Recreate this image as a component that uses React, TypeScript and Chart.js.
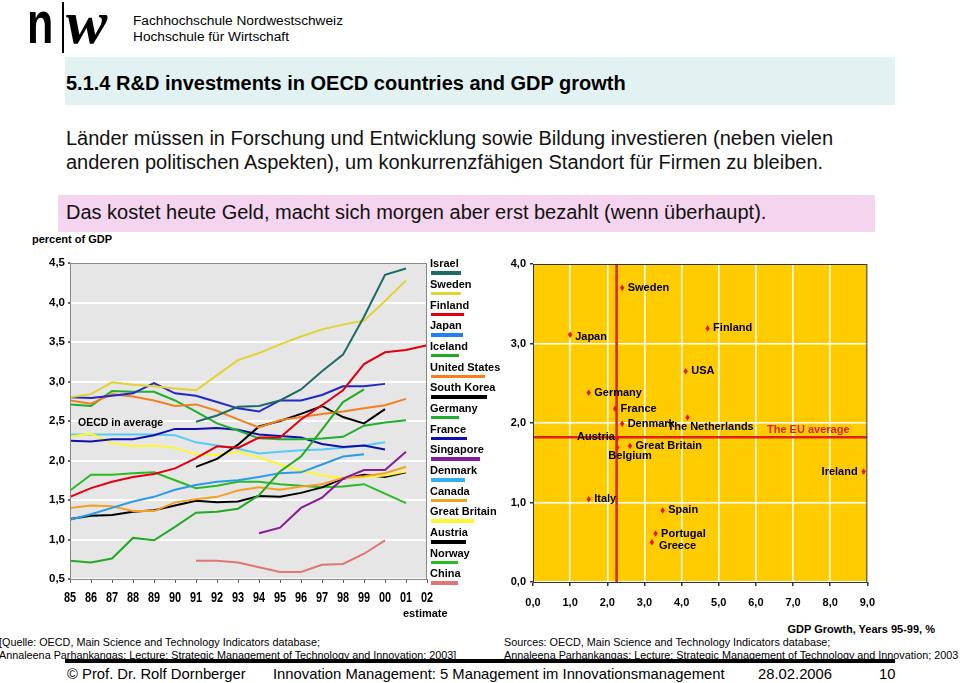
import React, { useEffect, useRef } from 'react';
import Chart from 'chart.js/auto';

// ---------- Left chart data: R&D expenditure, percent of GDP ----------
const YEARS = ['85', '86', '87', '88', '89', '90', '91', '92', '93', '94', '95', '96', '97', '98', '99', '00', '01', '02'];
const N = null;
const ISRAEL = [N, N, N, N, N, N, 2.49, 2.57, 2.68, 2.69, 2.76, 2.9, 3.13, 3.34, 3.82, 4.35, 4.43, N];
const SWEDEN = [2.8, 2.84, 2.99, 2.96, 2.94, 2.91, 2.89, 3.08, 3.27, 3.36, 3.47, 3.57, 3.66, 3.72, 3.77, 4.02, 4.28, N];
const FINLAND = [1.54, 1.65, 1.73, 1.79, 1.83, 1.9, 2.03, 2.18, 2.16, 2.29, 2.29, 2.52, 2.7, 2.89, 3.22, 3.37, 3.4, 3.46];
const JAPAN = [2.8, 2.79, 2.82, 2.85, 2.98, 2.85, 2.82, 2.74, 2.66, 2.62, 2.76, 2.76, 2.83, 2.94, 2.94, 2.97, N, N];
const ICELAND = [0.73, 0.71, 0.76, 1.02, 0.99, 1.16, 1.34, 1.35, 1.39, 1.56, 1.86, 2.05, 2.39, 2.74, 2.9, N, N, N];
const UNITED_STATES = [2.76, 2.72, 2.84, 2.81, 2.76, 2.69, 2.71, 2.63, 2.52, 2.42, 2.51, 2.55, 2.59, 2.62, 2.66, 2.7, 2.78, N];
const SOUTH_KOREA = [N, N, N, N, N, N, 1.92, 2.02, 2.2, 2.43, 2.5, 2.59, 2.69, 2.55, 2.47, 2.65, N, N];
const GERMANY = [2.71, 2.69, 2.88, 2.87, 2.87, 2.76, 2.62, 2.47, 2.38, 2.28, 2.27, 2.27, 2.28, 2.3, 2.44, 2.48, 2.51, N];
const FRANCE = [2.25, 2.24, 2.27, 2.27, 2.32, 2.4, 2.4, 2.41, 2.39, 2.33, 2.31, 2.29, 2.21, 2.17, 2.19, 2.14, N, N];
const SINGAPORE = [N, N, N, N, N, N, N, N, N, 1.08, 1.15, 1.4, 1.53, 1.77, 1.88, 1.88, 2.11, N];
const DENMARK = [1.25, 1.32, 1.4, 1.48, 1.54, 1.63, 1.69, 1.73, 1.75, 1.79, 1.84, 1.85, 1.95, 2.05, 2.08, N, N, N];
const CANADA = [1.4, 1.43, 1.42, 1.36, 1.36, 1.47, 1.51, 1.54, 1.62, 1.66, 1.63, 1.67, 1.7, 1.78, 1.8, 1.84, 1.92, N];
const GREAT_BRITAIN = [2.3, 2.34, 2.22, 2.18, 2.19, 2.16, 2.08, 2.07, 2.11, 2.04, 1.95, 1.87, 1.81, 1.78, 1.79, 1.81, 1.86, N];
const AUSTRIA = [1.26, 1.3, 1.31, 1.35, 1.37, 1.43, 1.49, 1.47, 1.48, 1.55, 1.54, 1.59, 1.66, 1.77, 1.82, 1.79, 1.85, N];
const NORWAY = [1.62, 1.82, 1.82, 1.84, 1.85, 1.75, 1.65, 1.68, 1.73, 1.73, 1.7, 1.68, 1.66, 1.67, 1.7, 1.58, 1.46, N];
const CHINA = [N, N, N, N, N, N, 0.73, 0.73, 0.71, 0.65, 0.59, 0.59, 0.68, 0.69, 0.82, 0.99, N, N];
const OECD_AVERAGE = [2.33, 2.33, 2.33, 2.33, 2.33, 2.32, 2.23, 2.19, 2.15, 2.09, 2.11, 2.13, 2.14, 2.16, 2.19, 2.23, N, N];

const SERIES_NAMES = ['Israel', 'Sweden', 'Finland', 'Japan', 'Iceland', 'United States', 'South Korea', 'Germany', 'France', 'Singapore', 'Denmark', 'Canada', 'Great Britain', 'Austria', 'Norway', 'China'];
const SERIES_VALUES = [ISRAEL, SWEDEN, FINLAND, JAPAN, ICELAND, UNITED_STATES, SOUTH_KOREA, GERMANY, FRANCE, SINGAPORE, DENMARK, CANADA, GREAT_BRITAIN, AUSTRIA, NORWAY, CHINA];
const Y_TICKS_LEFT = [0.5, 1, 1.5, 2, 2.5, 3, 3.5, 4, 4.5];

// ---------- Right chart data ----------
const COUNTRIES = ['Sweden', 'Japan', 'Finland', 'USA', 'Germany', 'France', 'Denmark', 'The Netherlands', 'Austria', 'Great Britain', 'Belgium', 'Ireland', 'Italy', 'Spain', 'Portugal', 'Greece'];
const GDP_GROWTH = [2.4, 1.0, 4.7, 4.11, 1.5, 2.21, 2.4, 4.16, 2.26, 2.61, 2.27, 8.9, 1.5, 3.49, 3.3, 3.2];
const RD_SHARE = [3.7, 3.11, 3.19, 2.65, 2.38, 2.18, 1.99, 2.07, 1.8, 1.71, 1.69, 1.39, 1.04, 0.9, 0.61, 0.5];
const EU_AVERAGE_GDP = 2.25;
const EU_AVERAGE_RD = 1.82;

// ---------- Styles (kept separate from data) ----------
const SERIES_COLORS = ['#1C6B66', '#E2D232', '#E00010', '#2228C8', '#22AA22', '#F08020', '#000000', '#1FAF2F', '#1010A8', '#8A1A9A', '#2A9BE6', '#F5A023', '#FFF530', '#000000', '#2ABB22', '#E07575'];
const LEGEND_COLORS = ['#1C6B66', '#E2D232', '#E00010', '#2080F0', '#22AA22', '#F08020', '#000000', '#1FAF2F', '#1010B0', '#8A1A9A', '#30B0F0', '#F5A023', '#FFF530', '#000000', '#2ABB22', '#E07575'];
const LEGEND_SWATCH_W = [30, 30, 33, 32, 28, 54, 56, 28, 36, 49, 34, 36, 43, 35, 27, 27];
const OECD_COLOR = '#55CCF2';
const LABEL_PLACEMENT: Record<string, { align: CanvasTextAlign; dx: number; dy: number }> = {
  'The Netherlands': { align: 'left', dx: -20, dy: 10 },
  Austria: { align: 'right', dx: -2, dy: -2 },
  Belgium: { align: 'left', dx: -9, dy: 8 },
  Ireland: { align: 'right', dx: -6, dy: 0 },
  Greece: { align: 'left', dx: 7, dy: 4 },
  Japan: { align: 'left', dx: 5, dy: 2 },
};

const SANS = "'Liberation Sans', Arial, Helvetica, sans-serif";

const fmt = (v: number) => Number(v).toFixed(1).replace('.', ',');

const plotFrame = (bg: string, frame: string) => ({
  id: 'plotFrame',
  beforeDraw(chart: any) {
    const { ctx, chartArea } = chart;
    ctx.save();
    ctx.fillStyle = bg;
    ctx.fillRect(chartArea.left, chartArea.top, chartArea.right - chartArea.left, chartArea.bottom - chartArea.top);
    ctx.restore();
  },
  afterDatasetsDraw(chart: any) {
    const { ctx, chartArea } = chart;
    ctx.save();
    ctx.strokeStyle = frame;
    ctx.lineWidth = 1;
    ctx.strokeRect(chartArea.left + 0.5, chartArea.top + 0.5, chartArea.right - chartArea.left - 1, chartArea.bottom - chartArea.top);
    ctx.restore();
  },
});

// narrow (condensed) year labels, positioned by the category scale
const narrowXLabels = {
  id: 'narrowXLabels',
  afterDraw(chart: any) {
    const { ctx, chartArea } = chart;
    const xs = chart.scales.x;
    ctx.save();
    ctx.font = `bold 14px ${SANS}`;
    ctx.fillStyle = '#000';
    ctx.textAlign = 'center';
    ctx.textBaseline = 'middle';
    YEARS.forEach((lab, i) => {
      const px = xs.getPixelForTick(i);
      ctx.save();
      ctx.translate(px, chartArea.bottom + 19.5);
      ctx.scale(0.78, 1);
      ctx.fillText(lab, 0, 0);
      ctx.restore();
    });
    ctx.restore();
  },
};

const pointLabels = {
  id: 'pointLabels',
  afterDatasetsDraw(chart: any) {
    const { ctx } = chart;
    const meta = chart.getDatasetMeta(0);
    ctx.save();
    ctx.font = `bold 11px ${SANS}`;
    ctx.fillStyle = '#000';
    ctx.textBaseline = 'middle';
    meta.data.forEach((pt: any, i: number) => {
      const name = COUNTRIES[i];
      const p = LABEL_PLACEMENT[name] || { align: 'left' as CanvasTextAlign, dx: 5.5, dy: 0 };
      ctx.textAlign = p.align;
      ctx.fillText(name, pt.x + p.dx, pt.y + p.dy);
    });
    meta.data.forEach((pt: any) => {
      ctx.fillStyle = '#E8141E';
      ctx.beginPath();
      ctx.moveTo(pt.x, pt.y - 3.2);
      ctx.lineTo(pt.x + 2.2, pt.y);
      ctx.lineTo(pt.x, pt.y + 3.2);
      ctx.lineTo(pt.x - 2.2, pt.y);
      ctx.closePath();
      ctx.fill();
    });
    ctx.restore();
  },
};

const T = ({ x, cy, size, bold, children, color, lh, italic, family, right }: any) => {
  const lineH = lh || Math.round(size * 1.25);
  const style: any = {
    position: 'absolute',
    top: cy - lineH / 2,
    lineHeight: `${lineH}px`,
    fontSize: size,
    fontWeight: bold ? 'bold' : 'normal',
    fontStyle: italic ? 'italic' : 'normal',
    whiteSpace: 'nowrap',
    color: color || '#000',
    fontFamily: family || SANS,
  };
  if (right !== undefined) style.right = 960 - right;
  else style.left = x;
  return <div style={style}>{children}</div>;
};

export default function App() {
  const leftRef = useRef<HTMLCanvasElement>(null);
  const rightRef = useRef<HTMLCanvasElement>(null);

  useEffect(() => {
    const datasets: any[] = SERIES_NAMES.map((name, i) => ({
      label: name,
      data: SERIES_VALUES[i],
      borderColor: SERIES_COLORS[i],
      backgroundColor: SERIES_COLORS[i],
      borderWidth: 2,
      pointRadius: 0,
      tension: 0,
      fill: false,
      spanGaps: false,
    }));
    datasets.push({
      label: 'OECD in average',
      data: OECD_AVERAGE,
      borderColor: OECD_COLOR,
      backgroundColor: OECD_COLOR,
      borderWidth: 2,
      pointRadius: 0,
      tension: 0,
      fill: false,
    });

    const left = new Chart(leftRef.current!, {
      type: 'line',
      data: { labels: YEARS, datasets },
      options: {
        animation: false,
        responsive: false,
        events: [],
        layout: { padding: { left: 0, right: 18, top: 13, bottom: 1 } },
        plugins: { legend: { display: false }, tooltip: { enabled: false } },
        scales: {
          x: {
            type: 'category',
            offset: false,
            grid: { drawOnChartArea: false, tickLength: 4, tickColor: '#666' },
            border: { color: '#666', width: 1 },
            ticks: { display: false, autoSkip: false, maxRotation: 0 },
            afterFit: (s: any) => { s.height = 30; },
          },
          y: {
            min: 0.5,
            max: 4.5,
            afterBuildTicks: (s: any) => { s.ticks = Y_TICKS_LEFT.map((v) => ({ value: v })); },
            ticks: { callback: (v: any) => fmt(v), font: { family: SANS, size: 11.5, weight: 'bold' }, color: '#000', padding: 3 },
            grid: { color: '#ffffff', lineWidth: 2, tickLength: 2, tickColor: '#666' },
            border: { color: '#666', width: 1 },
            afterFit: (s: any) => { s.width = 70; },
          },
        },
      } as any,
      plugins: [plotFrame('#E6E6E6', '#888888'), narrowXLabels],
    });

    const right = new Chart(rightRef.current!, {
      type: 'scatter',
      data: {
        datasets: [
          {
            label: 'Countries',
            data: COUNTRIES.map((_, i) => ({ x: GDP_GROWTH[i], y: RD_SHARE[i] })),
            pointStyle: 'rectRot',
            pointRadius: 0,
            backgroundColor: '#E8141E',
            borderColor: '#E8141E',
          },
          {
            label: 'EU average GDP',
            data: [{ x: EU_AVERAGE_GDP, y: 0 }, { x: EU_AVERAGE_GDP, y: 4 }],
            showLine: true,
            borderColor: '#E0201A',
            borderWidth: 2.5,
            pointRadius: 0,
          },
          {
            label: 'EU average R&D',
            data: [{ x: 0, y: EU_AVERAGE_RD }, { x: 9, y: EU_AVERAGE_RD }],
            showLine: true,
            borderColor: '#E0201A',
            borderWidth: 2.5,
            pointRadius: 0,
          },
        ],
      },
      options: {
        animation: false,
        responsive: false,
        events: [],
        layout: { padding: { left: 0, right: 16, top: 14, bottom: 1 } },
        plugins: { legend: { display: false }, tooltip: { enabled: false } },
        scales: {
          x: {
            type: 'linear',
            min: 0,
            max: 9,
            ticks: { stepSize: 1, callback: (v: any) => fmt(v), font: { family: SANS, size: 11, weight: 'bold' }, color: '#000', padding: 10 },
            grid: { color: '#ffffff', lineWidth: 1.5, tickLength: 4, tickColor: '#333' },
            border: { color: '#333', width: 1 },
            afterFit: (s: any) => { s.height = 29; },
          },
          y: {
            type: 'linear',
            min: 0,
            max: 4,
            ticks: { stepSize: 1, callback: (v: any) => fmt(v), font: { family: SANS, size: 11, weight: 'bold' }, color: '#000', padding: 4 },
            grid: { color: '#ffffff', lineWidth: 1.5, tickLength: 3, tickColor: '#333' },
            border: { color: '#333', width: 1 },
            afterFit: (s: any) => { s.width = 38; },
          },
        },
      } as any,
      plugins: [plotFrame('#FFCC00', '#333333'), pointLabels],
    });

    return () => {
      left.destroy();
      right.destroy();
    };
  }, []);

  const legendTop = 263.3;
  const legendStep = 20.67;

  return (
    <div style={{ position: 'absolute', left: 0, top: 0, width: 960, height: 683, background: '#fff', overflow: 'hidden', fontFamily: SANS }}>
      {/* Logo */}
      <div style={{ position: 'absolute', left: 27, top: -12, fontSize: 60, fontWeight: 'bold', fontFamily: SANS, lineHeight: '70px', transform: 'scaleX(0.72)', transformOrigin: 'left top' }}>n</div>
      <div style={{ position: 'absolute', left: 62, top: 2, width: 1.5, height: 51, background: '#000' }} />
      <div style={{ position: 'absolute', left: 66, top: -13, fontSize: 62, fontStyle: 'italic', fontWeight: 'bold', fontFamily: "'Liberation Serif', 'DejaVu Serif', serif", lineHeight: '70px' }}>w</div>
      <T x={133} cy={20} size={13.7}>Fachhochschule Nordwestschweiz</T>
      <T x={133} cy={36} size={13.7}>Hochschule für Wirtschaft</T>

      {/* Title bar */}
      <div style={{ position: 'absolute', left: 65, top: 57, width: 830, height: 48, background: '#E2F2F2' }} />
      <T x={66} cy={83} size={20} bold>5.1.4 R&amp;D investments in OECD countries and GDP growth</T>

      {/* Body text */}
      <T x={66} cy={138} size={20} color="#111">Länder müssen in Forschung und Entwicklung sowie Bildung investieren (neben vielen</T>
      <T x={66} cy={162} size={20} color="#111">anderen politischen Aspekten), um konkurrenzfähigen Standort für Firmen zu bleiben.</T>
      <div style={{ position: 'absolute', left: 58, top: 195, width: 817, height: 37, background: '#F4D4EE' }} />
      <T x={66} cy={212} size={20} color="#111">Das kostet heute Geld, macht sich morgen aber erst bezahlt (wenn überhaupt).</T>

      {/* Left chart */}
      <T x={32} cy={239} size={11} bold>percent of GDP</T>
      <canvas ref={leftRef} width={445} height={360} style={{ position: 'absolute', left: 0, top: 250, width: 445, height: 360 }} />
      <T x={78} cy={422} size={10.5} bold>OECD in average</T>
      <T x={403} cy={613} size={11} bold>estimate</T>
      {SERIES_NAMES.map((name, i) => (
        <React.Fragment key={name}>
          <T x={430} cy={legendTop + i * legendStep} size={11} bold>{name}</T>
          <div style={{ position: 'absolute', left: 431, top: legendTop + i * legendStep + 8, width: LEGEND_SWATCH_W[i], height: 3.5, background: LEGEND_COLORS[i] }} />
        </React.Fragment>
      ))}

      {/* Right chart */}
      <canvas ref={rightRef} width={390} height={362} style={{ position: 'absolute', left: 495, top: 250, width: 390, height: 362 }} />
      <T x={767} cy={429} size={11} bold color="#E02020">The EU average</T>
      <T right={935} cy={629} size={11} bold>GDP Growth, Years 95-99, %</T>

      {/* Sources */}
      <T x={-1} cy={642} size={10.8}>[Quelle: OECD, Main Science and Technology Indicators database;</T>
      <T x={-1} cy={655} size={10.8}>Annaleena Parhankangas; Lecture: Strategic Management of Technology and Innovation; 2003]</T>
      <T x={504} cy={642} size={10.8}>Sources: OECD, Main Science and Technology Indicators database;</T>
      <T x={504} cy={655} size={10.8}>Annaleena Parhankangas; Lecture: Strategic Management of Technology and Innovation; 2003</T>

      {/* Footer */}
      <div style={{ position: 'absolute', left: 65, top: 659, width: 830, height: 3.5, background: '#000' }} />
      <T x={67} cy={674} size={14.8}>© Prof. Dr. Rolf Dornberger</T>
      <T x={273} cy={674} size={14.8}>Innovation Management: 5 Management im Innovationsmanagement</T>
      <T x={758} cy={674} size={14.8}>28.02.2006</T>
      <T x={879} cy={674} size={14.8}>10</T>
    </div>
  );
}
